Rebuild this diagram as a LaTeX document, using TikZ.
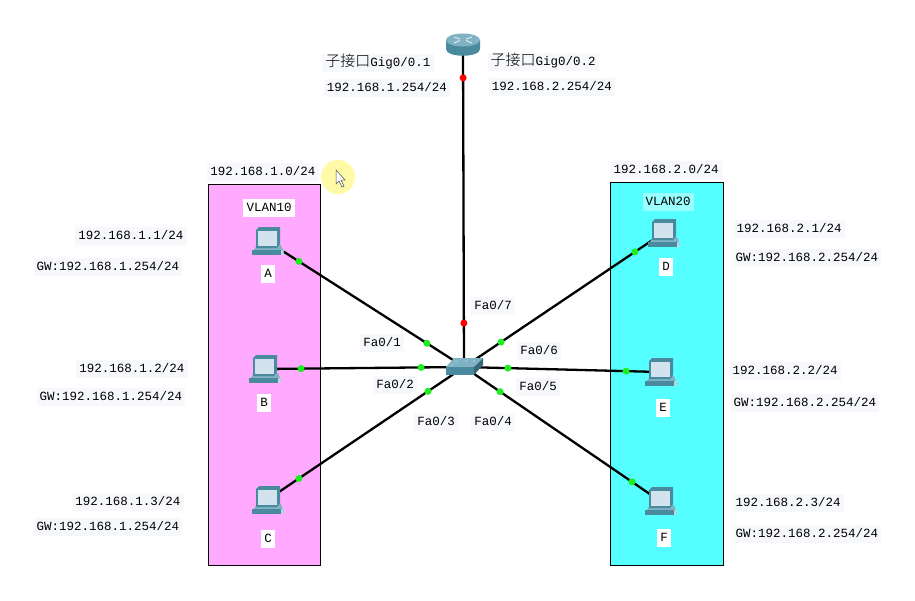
\documentclass[tikz,border=0pt]{standalone}
\usepackage{fontspec}
\setmainfont{Liberation Mono}
\newfontfamily\cjk{Noto Sans CJK SC Light}
\definecolor{lblbg}{HTML}{F6F8FC}
\definecolor{vlanA}{HTML}{FFAAFF}
\definecolor{vlanB}{HTML}{55FFFF}
\definecolor{devdark}{HTML}{4A8A9E}
\definecolor{devmid}{HTML}{7FB2C2}
\definecolor{devlight}{HTML}{D3E3EE}
\definecolor{linkgreen}{HTML}{1CF01C}
\tikzset{
  x=1pt,y=-1pt,
  lbl/.style={fill=lblbg,inner xsep=3pt,inner ysep=3.5pt,font=\fontsize{12.5}{14}\selectfont,text height=9pt,text depth=1.5pt,yshift=-1pt},
  whitelbl/.style={lbl,fill=white},
  zone/.style={draw=black,line width=0.8pt},
  link/.style={draw=black,line width=2.3pt},
  devnode/.style={inner sep=0pt,minimum size=1pt},
  gdot/.style={circle,fill=linkgreen,inner sep=0pt,minimum size=7pt},
  rdot/.style={circle,fill=red,inner sep=0pt,minimum size=7pt},
  pics/pc/.style={code={
    \fill[devmid] (-10,4) -- (14,4) -- (17,12) -- (-15,12) -- cycle;
    \fill[devdark] (-15,9) -- (14,9) -- (14,14) -- (-15,14) -- cycle;
    \fill[devmid!50!white] (14,10) -- (17,8) -- (16,14) -- (14,14) -- cycle;
    \fill[devdark] (-11,-11) -- (-8,-14) -- (13,-14) -- (13,3) -- (10,7) -- (-11,7) -- cycle;
    \fill[devlight] (-9.5,-10.5) -- (9.5,-10.5) -- (9.5,4.5) -- (-9.5,4.5) -- cycle;
  }},
  pics/routericon/.style={code={
    \fill[devdark] (-17,-4) -- (-17,5) .. controls (-17,14) and (17,14) .. (17,5) -- (17,-4) -- cycle;
    \fill[devmid] (0,-4) ellipse[x radius=17,y radius=6.5];
    \draw[white!80!devmid,line width=0.9pt] (-9,-7) -- (-3,-5) (9,-7) -- (3,-5) (-9,-1) -- (-3,-3.5) (9,-1) -- (3,-3.5);
  }},
  pics/switchicon/.style={code={
    \fill[devmid] (-10,-9) -- (19,-9) -- (10,0) -- (-18,0) -- cycle;
    \fill[devdark] (-18,0) -- (10,0) -- (10,8) -- (-18,8) -- cycle;
    \fill[devdark!75!black] (10,0) -- (19,-9) -- (19,-2) -- (10,8) -- cycle;
    \fill[white!80!devmid] (-8,-6) circle (0.7) (2,-6) circle (0.7) (10,-6) circle (0.7) (-12,-2) circle (0.7);
  }},
}
\newcommand{\lab}[3]{\node[lbl] (#1) at #2 {#3};}
\begin{document}
\begin{tikzpicture}
\useasboundingbox (0,0) rectangle (915,600);
\fill[white] (0,0) rectangle (915,600);
% zones
\node[zone,fill=vlanA,anchor=north west,minimum width=112pt,minimum height=381pt,inner sep=0pt] (zoneL) at (208,184) {};
\node[zone,fill=vlanB,anchor=north west,minimum width=113pt,minimum height=383pt,inner sep=0pt] (zoneR) at (610,182) {};
% device anchors
\node[devnode] (router) at (463,44) {};
\node[devnode] (sw) at (464,367) {};
\node[devnode] (pcA) at (267,241) {};
\node[devnode] (pcB) at (264,369) {};
\node[devnode] (pcC) at (267,500) {};
\node[devnode] (pcD) at (663,233) {};
\node[devnode] (pcE) at (660,372) {};
\node[devnode] (pcF) at (660,501) {};
% links
\draw[link] (router.center) -- node[rdot,pos=.105] (r1) {} node[rdot,pos=.864] (r2) {} (sw.center);
\draw[link] (pcA.center) -- node[gdot,pos=.162] (a1) {} node[gdot,pos=.812] (a2) {} (sw.center);
\draw[link] (pcB.center) -- node[gdot,pos=.185] (b1) {} node[gdot,pos=.785] (b2) {} (sw.center);
\draw[link] (pcC.center) -- node[gdot,pos=.162] (c1) {} node[gdot,pos=.817] (c2) {} (sw.center);
\draw[link] (pcD.center) -- node[gdot,pos=.141] (d1) {} node[gdot,pos=.814] (d2) {} (sw.center);
\draw[link] (pcE.center) -- node[gdot,pos=.173] (e1) {} node[gdot,pos=.776] (e2) {} (sw.center);
\draw[link] (pcF.center) -- node[gdot,pos=.143] (f1) {} node[gdot,pos=.816] (f2) {} (sw.center);
% icons
\pic at (router) {routericon};
\pic at (sw) {switchicon};
\pic at (pcA) {pc};
\pic at (pcB) {pc};
\pic at (pcC) {pc};
\pic at (pcD) {pc};
\pic at (pcE) {pc};
\pic at (pcF) {pc};
% cursor highlight
\fill[yellow!35!white] (338,177) circle (17);
\fill[white,draw=black!70,line width=0.5pt] (336,170) -- (336,184) -- (339,181) -- (342,187) -- (344,186) -- (341,180) -- (345,180) -- cycle;
% labels
\lab{t1}{(378,62)}{{\cjk\fontsize{15}{15}\selectfont 子接口}Gig0/0.1}
\lab{t2}{(387,87)}{192.168.1.254/24}
\lab{t3}{(543,61)}{{\cjk\fontsize{15}{15}\selectfont 子接口}Gig0/0.2}
\lab{t4}{(552,86)}{192.168.2.254/24}
\lab{t5}{(263,171)}{192.168.1.0/24}
\lab{t6}{(666,169)}{192.168.2.0/24}
\node[whitelbl] (vl10) at (269,207) {VLAN10};
\node[lbl,fill=vlanB!60!white] (vl20) at (668,201) {VLAN20};
\node[whitelbl] (na) at (268,273) {A};
\node[whitelbl] (nb) at (264,402) {B};
\node[whitelbl] (nc) at (268,538) {C};
\node[whitelbl] (nd) at (666,266) {D};
\node[whitelbl] (ne) at (663,407) {E};
\node[whitelbl] (nf) at (664,537) {F};
\lab{ipA}{(131,235)}{192.168.1.1/24}
\lab{gwA}{(108,266)}{GW:192.168.1.254/24}
\lab{ipB}{(132,368)}{192.168.1.2/24}
\lab{gwB}{(111,396)}{GW:192.168.1.254/24}
\lab{ipC}{(128,501)}{192.168.1.3/24}
\lab{gwC}{(108,526)}{GW:192.168.1.254/24}
\lab{ipD}{(789,228)}{192.168.2.1/24}
\lab{gwD}{(807,257)}{GW:192.168.2.254/24}
\lab{ipE}{(785,370)}{192.168.2.2/24}
\lab{gwE}{(805,402)}{GW:192.168.2.254/24}
\lab{ipF}{(788,502)}{192.168.2.3/24}
\lab{gwF}{(807,533)}{GW:192.168.2.254/24}
\lab{f7}{(493,305)}{Fa0/7}
\lab{f1}{(382,342)}{Fa0/1}
\lab{f2}{(395,384)}{Fa0/2}
\lab{f3}{(436,421)}{Fa0/3}
\lab{f4}{(493,421)}{Fa0/4}
\lab{f5}{(538,386)}{Fa0/5}
\lab{f6}{(539,350)}{Fa0/6}
\end{tikzpicture}
\end{document}
